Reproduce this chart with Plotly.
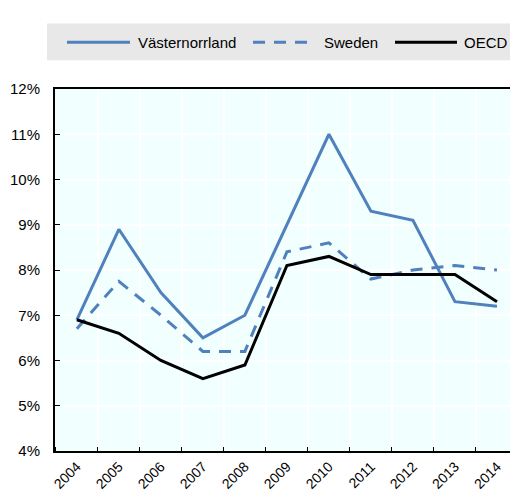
import plotly.graph_objects as go

# Unemployment rate (%), 2004-2014
years = [2004, 2005, 2006, 2007, 2008, 2009, 2010, 2011, 2012, 2013, 2014]
vasternorrland = [6.9, 8.9, 7.5, 6.5, 7.0, 9.0, 11.0, 9.3, 9.1, 7.3, 7.2]
sweden = [6.7, 7.75, 7.0, 6.2, 6.2, 8.4, 8.6, 7.8, 8.0, 8.1, 8.0]
oecd = [6.9, 6.6, 6.0, 5.6, 5.9, 8.1, 8.3, 7.9, 7.9, 7.9, 7.3]
y_ticks = [4, 5, 6, 7, 8, 9, 10, 11, 12]

BLUE = "#4F81BD"
DASH = "12px,9px"
FONT = "Liberation Sans, Arial, sans-serif"

series = [
    ("Västernorrland", vasternorrland, dict(color=BLUE, width=3)),
    ("Sweden", sweden, dict(color=BLUE, width=3, dash=DASH)),
    ("OECD", oecd, dict(color="black", width=3)),
]

fig = go.Figure()
for name, values, line in series:
    fig.add_trace(go.Scatter(x=years, y=values, name=name, mode="lines",
                             line=line, showlegend=False))

# Legend drawn as a grey band with line samples and labels (paper coords)
fig.add_shape(type="rect", xref="paper", yref="paper",
              x0=-0.0176, x1=1.0, y0=1.0797, y1=1.181,
              fillcolor="#E8E8E8", line_width=0, layer="below")
legend_y = 1.1291
legend_slots = [(0.0264, 0.1648, 0.178), (0.4352, 0.5714, 0.5868), (0.7473, 0.8835, 0.8945)]
for (name, _, line), (lx0, lx1, tx) in zip(series, legend_slots):
    fig.add_shape(type="line", xref="paper", yref="paper",
                  x0=lx0, x1=lx1, y0=legend_y, y1=legend_y, line=line)
    fig.add_annotation(text=name, xref="paper", yref="paper", x=tx, y=legend_y,
                       xanchor="left", yanchor="middle", showarrow=False,
                       font=dict(size=15, family=FONT, color="black"))

fig.update_layout(
    width=510, height=492,
    margin=dict(l=55, r=0, t=89, b=39),
    paper_bgcolor="white",
    plot_bgcolor="#F2FFFF",
    font=dict(family=FONT, size=14, color="black"),
    showlegend=False,
    xaxis=dict(
        range=[2003.48, 2014.31],
        tickmode="array", tickvals=years, ticktext=[str(y) for y in years],
        tickangle=-45, ticks="", showgrid=False,
        showline=True, linecolor="black", linewidth=2, mirror=True,
        zeroline=False,
        minor=dict(tick0=2003.5, dtick=1, ticks="inside", ticklen=4,
                   tickcolor="black", showgrid=True, gridcolor="white", gridwidth=1.5),
        tickfont=dict(size=14),
    ),
    yaxis=dict(
        range=[4, 12], tickmode="array", tickvals=y_ticks,
        ticktext=[f"{v}%" for v in y_ticks],
        ticks="inside", ticklen=5, tickcolor="black",
        showgrid=True, gridcolor="white", gridwidth=1.5,
        showline=True, linecolor="black", linewidth=2,
        zeroline=False, ticklabelstandoff=10,
        tickfont=dict(size=15),
    ),
)

fig.write_html("out.html")
